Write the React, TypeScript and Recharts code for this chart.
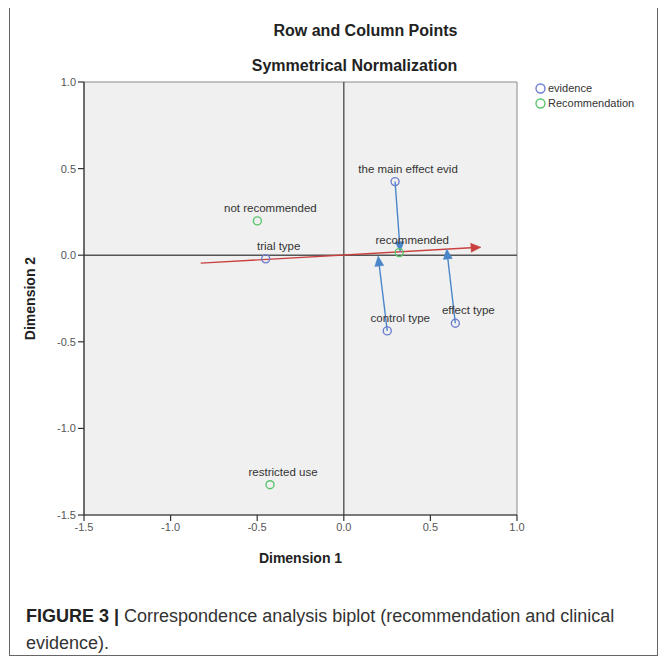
import React from "react";
import {
  ScatterChart,
  Scatter,
  XAxis,
  YAxis,
  ReferenceLine,
  ReferenceArea,
} from "recharts";

const FONT = "'Liberation Sans', Arial, sans-serif";

// tick labels
const xTicks = [-1.5, -1.0, -0.5, 0.0, 0.5, 1.0];
const yTicks = [-1.5, -1.0, -0.5, 0.0, 0.5, 1.0];

// evidence (row points)
const evidenceLabels = ["the main effect evid", "trial type", "control type", "effect type"];
const evidenceX = [0.296, -0.451, 0.251, 0.644];
const evidenceY = [0.425, -0.021, -0.437, -0.393];

// recommendation (column points)
const recLabels = ["not recommended", "recommended", "restricted use"];
const recX = [-0.499, 0.32, -0.426];
const recY = [0.198, 0.015, -1.325];

// red direction arrow (from -> to)
const redArrowFrom = { x: -0.826, y: -0.046 };
const redArrowTo = { x: 0.792, y: 0.046 };

// blue projection arrows: from evidence point to tip
const blueFromX = [0.296, 0.251, 0.644];
const blueFromY = [0.425, -0.437, -0.393];
const blueToX = [0.326, 0.198, 0.594];
const blueToY = [0.02, -0.005, 0.036];

const evidenceData = evidenceLabels.map((name, i) => ({ name, x: evidenceX[i], y: evidenceY[i] }));
const recData = recLabels.map((name, i) => ({ name, x: recX[i], y: recY[i] }));

const BLUE_PT = "#6f7fd0";
const GREEN_PT = "#5cc46c";
const RED = "#c9413f";
const BLUE_ARROW = "#4a86c8";

const makePointShape = (color: string) => (props: any) => {
  const { cx, cy, payload } = props;
  if (cx == null || cy == null) return <g />;
  return (
    <g>
      <circle cx={cx} cy={cy} r={4} fill="none" stroke={color} strokeWidth={1.4} />
      <text
        x={cx + 13}
        y={cy - 9}
        textAnchor="middle"
        fontFamily={FONT}
        fontSize={11.5}
        fill="#333"
      >
        {payload.name}
      </text>
    </g>
  );
};

const makeArrowShape = (color: string) => (props: any) => {
  const { x1, y1, x2, y2 } = props;
  if ([x1, y1, x2, y2].some((v) => v == null || isNaN(v))) return <g />;
  const dx = x2 - x1;
  const dy = y2 - y1;
  const len = Math.sqrt(dx * dx + dy * dy) || 1;
  const ux = dx / len;
  const uy = dy / len;
  const hl = 10;
  const hw = 4.5;
  const bx = x2 - ux * hl;
  const by = y2 - uy * hl;
  const p1 = `${x2},${y2}`;
  const p2 = `${bx - uy * hw},${by + ux * hw}`;
  const p3 = `${bx + uy * hw},${by - ux * hw}`;
  return (
    <g>
      <line x1={x1} y1={y1} x2={bx} y2={by} stroke={color} strokeWidth={1.4} />
      <polygon points={`${p1} ${p2} ${p3}`} fill={color} stroke={color} strokeWidth={0.5} />
    </g>
  );
};

const legendItems = [
  { c: BLUE_PT, t: "evidence" },
  { c: GREEN_PT, t: "Recommendation" },
];

export default function App() {
  return (
    <div
      style={{
        position: "relative",
        width: 667,
        height: 659,
        marginLeft: -8,
        marginTop: -8,
        background: "#fff",
        fontFamily: FONT,
      }}
    >
      <div
        style={{
          position: "absolute",
          left: 9,
          top: 6,
          width: 649,
          height: 650,
          border: "1px solid #666",
          boxSizing: "border-box",
        }}
      />
      <div
        style={{
          position: "absolute",
          left: 0,
          width: 667,
          top: 22,
          textAlign: "center",
          fontSize: 16,
          fontWeight: "bold",
          color: "#222",
          paddingLeft: 64,
          boxSizing: "border-box",
        }}
      >
        Row and Column Points
      </div>
      <div
        style={{
          position: "absolute",
          left: 0,
          width: 667,
          top: 57,
          textAlign: "center",
          fontSize: 16,
          fontWeight: "bold",
          color: "#222",
          paddingLeft: 42,
          boxSizing: "border-box",
        }}
      >
        Symmetrical Normalization
      </div>
      <div style={{ position: "absolute", left: 0, top: 0 }}>
        <ScatterChart
          width={667}
          height={659}
          margin={{ top: 82, right: 150, bottom: 104, left: 0 }}
        >
          <ReferenceArea
            x1={-1.5}
            x2={1.0}
            y1={-1.5}
            y2={1.0}
            fill="#f0f0f0"
            fillOpacity={1}
            stroke="#8a8a8a"
            strokeWidth={1}
          />
          <XAxis
            type="number"
            dataKey="x"
            domain={[-1.5, 1.0]}
            ticks={xTicks}
            tickFormatter={(v: number) => v.toFixed(1)}
            allowDataOverflow
            height={40}
            axisLine={{ stroke: "#333", strokeWidth: 1.2 }}
            tickLine={{ stroke: "#333", strokeWidth: 1.2 }}
            tickSize={6}
            tick={{ fill: "#555", fontSize: 11, fontFamily: FONT }}
            label={{
              value: "Dimension 1",
              position: "insideBottom",
              offset: -8,
              fill: "#222",
              fontSize: 14,
              fontWeight: "bold",
              fontFamily: FONT,
            }}
          />
          <YAxis
            type="number"
            dataKey="y"
            domain={[-1.5, 1.0]}
            ticks={yTicks}
            tickFormatter={(v: number) => v.toFixed(1)}
            allowDataOverflow
            width={84}
            axisLine={{ stroke: "#333", strokeWidth: 1.2 }}
            tickLine={{ stroke: "#333", strokeWidth: 1.2 }}
            tickSize={6}
            tick={{ fill: "#555", fontSize: 11, fontFamily: FONT }}
            label={{
              value: "Dimension 2",
              angle: -90,
              position: "insideLeft",
              offset: 30,
              fill: "#222",
              fontSize: 14,
              fontWeight: "bold",
              fontFamily: FONT,
              style: { textAnchor: "middle" },
            }}
          />
          <ReferenceLine x={0} stroke="#555" strokeWidth={1.4} />
          <ReferenceLine y={0} stroke="#555" strokeWidth={1.4} />
          <ReferenceLine
            segment={[redArrowFrom, redArrowTo]}
            stroke={RED}
            shape={makeArrowShape(RED)}
          />
          {blueFromX.map((fx, i) => (
            <ReferenceLine
              key={"b" + i}
              segment={[
                { x: fx, y: blueFromY[i] },
                { x: blueToX[i], y: blueToY[i] },
              ]}
              stroke={BLUE_ARROW}
              shape={makeArrowShape(BLUE_ARROW)}
            />
          ))}
          <Scatter
            name="evidence"
            data={evidenceData}
            shape={makePointShape(BLUE_PT)}
            isAnimationActive={false}
          />
          <Scatter
            name="Recommendation"
            data={recData}
            shape={makePointShape(GREEN_PT)}
            isAnimationActive={false}
          />
        </ScatterChart>
      </div>
      <div
        style={{
          position: "absolute",
          left: 535,
          top: 81,
          fontFamily: FONT,
          fontSize: 11,
          color: "#333",
          lineHeight: "15px",
        }}
      >
        {legendItems.map((it) => (
          <div key={it.t} style={{ display: "flex", alignItems: "center" }}>
            <svg width={11} height={11} style={{ marginRight: 2 }}>
              <circle cx={5.5} cy={5.5} r={4.5} fill="none" stroke={it.c} strokeWidth={1.4} />
            </svg>
            <span>{it.t}</span>
          </div>
        ))}
      </div>
      <div
        style={{
          position: "absolute",
          left: 26,
          top: 603,
          fontSize: 18,
          lineHeight: "27px",
          color: "#333",
          fontFamily: FONT,
          whiteSpace: "nowrap",
        }}
      >
        <div>
          <span style={{ fontWeight: "bold", color: "#222", marginRight: 5 }}>FIGURE 3 |</span>
          <span>Correspondence analysis biplot (recommendation and clinical</span>
        </div>
        <div>evidence).</div>
      </div>
    </div>
  );
}
